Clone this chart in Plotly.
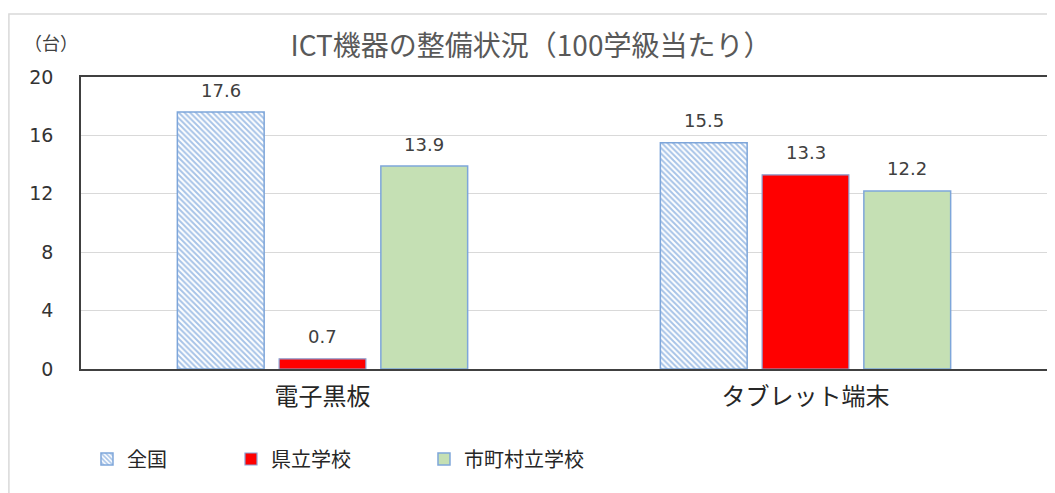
import plotly.graph_objects as go

categories = ["電子黒板", "タブレット端末"]
series_names = ["全国", "県立学校", "市町村立学校"]
zenkoku = [17.6, 15.5]
kenritsu = [0.7, 13.3]
shichoson = [13.9, 12.2]
y_ticks = [0, 4, 8, 12, 16, 20]

title_text = "ICT機器の整備状況（100学級当たり）"
unit_text = "（台）"

# page has an 8px body margin; work in page pixels and subtract it
OFF = 8
W, H = 1055 - OFF, 493 - OFF
L = 81 - OFF
T = 77 - OFF
plot_w = 1049 - 81
plot_h = 369 - 77
R = W - L - plot_w
B = H - T - plot_h


def px_x(page_x):
    return (page_x - OFF - L) / plot_w


def px_y(page_y):
    return (T + plot_h - (page_y - OFF)) / plot_h


BARGAP = 0.368
BARGROUPGAP = 0.147

fig = go.Figure()

fig.add_trace(go.Bar(
    name=series_names[0], x=categories, y=zenkoku,
    marker=dict(color="white",
                pattern=dict(shape="\\", fgcolor="#4F88D0", bgcolor="white",
                             size=4, solidity=0.5, fillmode="overlay"),
                line=dict(color="#7EA6DA", width=1.5)),
    legendwidth=99,
))
fig.add_trace(go.Bar(
    name=series_names[1], x=categories, y=kenritsu,
    marker=dict(color="#FF0000", line=dict(color="#8AA2D6", width=1.2)),
    legendwidth=148,
))
fig.add_trace(go.Bar(
    name=series_names[2], x=categories, y=shichoson,
    marker=dict(color="#C5E0B4", line=dict(color="#7EA6DA", width=1.5)),
))

# data labels above bars
series = [zenkoku, kenritsu, shichoson]
slot = (1 - BARGAP) / len(series)
annotations = []
for si, vals in enumerate(series):
    for ci, v in enumerate(vals):
        annotations.append(dict(
            x=ci + (si - (len(series) - 1) / 2) * slot, y=v,
            xref="x", yref="y", text=f"{v:.1f}", showarrow=False,
            yanchor="middle", xanchor="center", yshift=22,
            font=dict(family="DejaVu Sans", size=18, color="#404040"),
        ))

annotations.append(dict(
    x=px_x(22), y=px_y(42), xref="paper", yref="paper",
    text=unit_text, showarrow=False, xanchor="left", yanchor="middle",
    font=dict(family="Noto Sans CJK JP", size=18, color="#404040"),
))

fig.update_layout(
    width=W, height=H,
    margin=dict(l=L, r=R, t=T, b=B, pad=0),
    paper_bgcolor="white", plot_bgcolor="white",
    barmode="group", bargap=BARGAP, bargroupgap=BARGROUPGAP,
    title=dict(text=title_text, x=(531 - OFF) / W, xanchor="center", xref="container",
               y=1 - (46 - OFF) / H, yanchor="middle", yref="container",
               font=dict(family="Noto Sans CJK JP", size=28, color="#595959")),
    xaxis=dict(type="category", showline=True, linecolor="#404040", linewidth=1.5,
               mirror=True, showgrid=False, ticks="", ticklabelstandoff=5,
               tickfont=dict(family="Noto Sans CJK JP", size=24, color="#262626")),
    yaxis=dict(range=[0, 20], tickvals=y_ticks, showline=True, linecolor="#404040",
               linewidth=1.5, mirror=True, showgrid=True, gridcolor="#D9D9D9",
               gridwidth=1, zeroline=False, ticks="", ticklabelstandoff=22,
               tickfont=dict(family="DejaVu Sans", size=19, color="#333333")),
    legend=dict(orientation="h", x=px_x(87), xanchor="left",
                y=px_y(459), yanchor="middle",
                font=dict(family="Noto Sans CJK JP", size=20, color="#262626"),
                itemwidth=30, bgcolor="rgba(0,0,0,0)", traceorder="normal"),
    annotations=annotations,
    shapes=[dict(type="rect", xref="paper", yref="paper",
                 x0=px_x(OFF + 0.75), x1=1.2,
                 y0=-0.8, y1=px_y(14),
                 line=dict(color="#D9D9D9", width=1.5), layer="below")],
    showlegend=True,
)

fig.write_html("out.html")
